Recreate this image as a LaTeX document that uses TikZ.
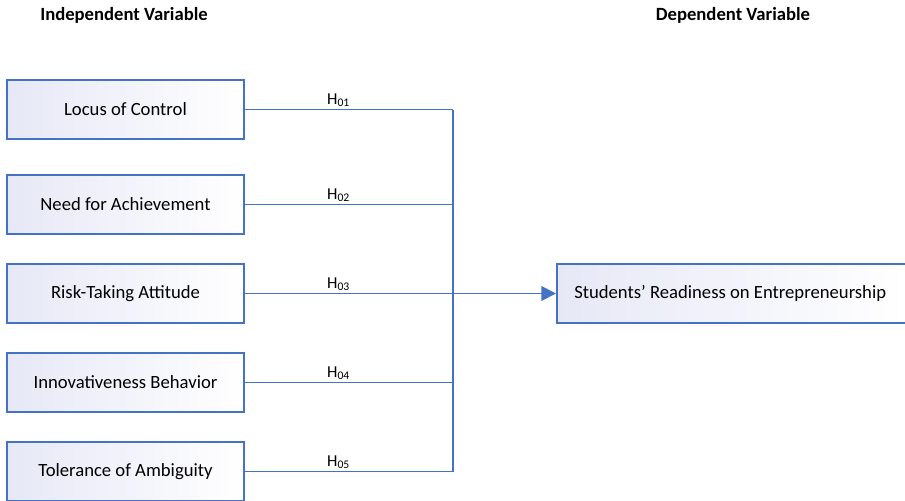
\documentclass[tikz,border=0pt]{standalone}
\usepackage{fontspec}
\setmainfont{Carlito}
\usetikzlibrary{positioning,arrows.meta}
\definecolor{officeblue}{HTML}{4472C4}
\definecolor{boxlav}{HTML}{E6E8F6}

\begin{document}
\begin{tikzpicture}[x=0.75pt,y=-0.75pt,
    var/.style={draw=officeblue, line width=1.3pt, minimum width=178pt, minimum height=44pt,
      left color=boxlav, right color=white,
      font=\fontsize{14}{17}\selectfont, inner sep=0pt},
    dep/.style={var, minimum width=262pt},
    hyp/.style={font=\fontsize{12.5}{15}\selectfont, text=black, inner sep=1.5pt, anchor=south},
    link/.style={officeblue, line width=1.4pt},
    head/.style={font=\bfseries\fontsize{14}{17}\selectfont}]

\useasboundingbox (0,0) rectangle (905,500);
\clip (0,0) rectangle (905,500);

\node [head] (IV) at (124,15) {Independent Variable};
\node [head] (DV) at (733,15) {Dependent Variable};

\node [var] (LC) at (125.5,109.5) {Locus of Control};
\node [var] (NA) at (125.5,204.5) {Need for Achievement};
\node [var] (RT) at (125.5,293.5) {Risk-Taking Attitude};
\node [var] (IB) at (125.5,382.5) {Innovativeness Behavior};
\node [var] (TA) at (125.5,471.5) {Tolerance of Ambiguity};

\node [dep, anchor=west] (SR) at (556,293.5) {\hspace{-2pt}Students’ Readiness on Entrepreneurship\hspace{2pt}};

\coordinate (J1) at (453,109.5);
\coordinate (J2) at (453,204.5);
\coordinate (J3) at (453,293.5);
\coordinate (J4) at (453,382.5);
\coordinate (J5) at (453,471.5);

\draw[link] (LC) -- (J1) node[hyp, pos=0.45] (H1) {H\textsubscript{01}};
\draw[link] (NA) -- (J2) node[hyp, pos=0.45] (H2) {H\textsubscript{02}};
\draw[link] (RT) -- (J3) node[hyp, pos=0.45] (H3) {H\textsubscript{03}};
\draw[link] (IB) -- (J4) node[hyp, pos=0.45] (H4) {H\textsubscript{04}};
\draw[link] (TA) -- (J5) node[hyp, pos=0.45] (H5) {H\textsubscript{05}};
\draw[link] (J1) -- (J5);
\draw[link, -{Triangle[length=11pt,width=11pt]}] (J3) -- (SR);
\end{tikzpicture}
\end{document}
